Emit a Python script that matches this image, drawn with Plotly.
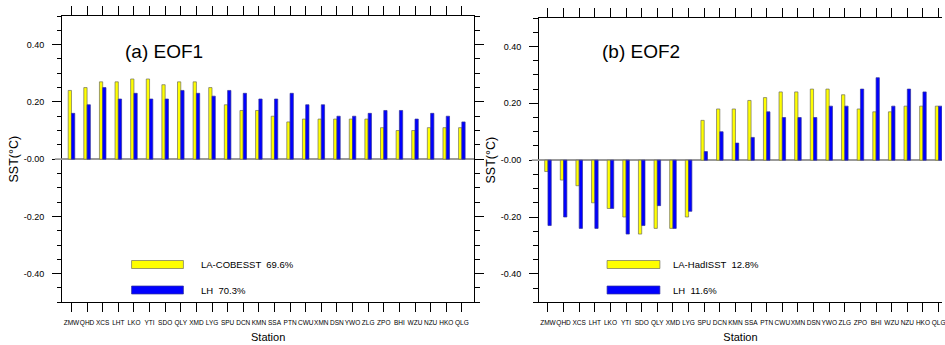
import plotly.graph_objects as go
from plotly.subplots import make_subplots

stations = ["ZMW", "QHD", "XCS", "LHT", "LKO", "YTI", "SDO", "QLY", "XMD", "LYG",
            "SPU", "DCN", "KMN", "SSA", "PTN", "CWU", "XMN", "DSN", "YWO", "ZLG",
            "ZPO", "BHI", "WZU", "NZU", "HKO", "QLG"]

eof1_la = [0.24, 0.25, 0.27, 0.27, 0.28, 0.28, 0.26, 0.27, 0.27, 0.25,
           0.19, 0.17, 0.17, 0.15, 0.13, 0.14, 0.14, 0.14, 0.14, 0.14,
           0.11, 0.10, 0.10, 0.11, 0.11, 0.11]
eof1_lh = [0.16, 0.19, 0.25, 0.21, 0.23, 0.21, 0.21, 0.24, 0.23, 0.22,
           0.24, 0.23, 0.21, 0.21, 0.23, 0.19, 0.19, 0.15, 0.15, 0.16,
           0.17, 0.17, 0.14, 0.16, 0.15, 0.13]

eof2_la = [-0.04, -0.07, -0.09, -0.15, -0.17, -0.20, -0.26, -0.24, -0.24, -0.20,
           0.14, 0.18, 0.18, 0.21, 0.22, 0.24, 0.24, 0.25, 0.25, 0.23,
           0.18, 0.17, 0.17, 0.19, 0.19, 0.19]
eof2_lh = [-0.23, -0.20, -0.24, -0.24, -0.17, -0.26, -0.23, -0.16, -0.24, -0.18,
           0.03, 0.10, 0.06, 0.08, 0.17, 0.15, 0.15, 0.15, 0.19, 0.19,
           0.25, 0.29, 0.19, 0.25, 0.24, 0.19]

y_tickvals = [-0.4, -0.2, 0.0, 0.2, 0.4]
y_ticktext = ["-0.40", "-0.20", "-0.00", "0.20", "0.40"]

panel_titles = ["(a) EOF1", "(b) EOF2"]
legend_labels = [["LA-COBESST  69.6%", "LH  70.3%"], ["LA-HadISST  12.8%", "LH  11.6%"]]

W, H = 945, 345
YELLOW = "#FFFF00"
BLUE = "#0000FF"
EDGE = "#6f6f5a"

fig = make_subplots(rows=1, cols=2)

for col, (la, lh) in enumerate([(eof1_la, eof1_lh), (eof2_la, eof2_lh)], start=1):
    fig.add_trace(go.Bar(x=stations, y=la, marker=dict(color=YELLOW, line=dict(color=EDGE, width=0.7)),
                         showlegend=False), row=1, col=col)
    fig.add_trace(go.Bar(x=stations, y=lh, marker=dict(color=BLUE, line=dict(color="#333399", width=0.7)),
                         showlegend=False), row=1, col=col)

base_font = "Liberation Sans, Arial, Helvetica, sans-serif"
narrow_font = "Liberation Sans Narrow, Arial Narrow, Liberation Sans, sans-serif"

def px_x(p):
    return p / W

def px_y(p):
    return 1 - p / H

x_domains = [[px_x(62.3), px_x(475.7)], [px_x(540.7), 1.0]]
y_domains = [[px_y(302.3), px_y(16)], [px_y(302.3), px_y(18)]]
x_ranges = [[-0.6, 25.79], [-0.575, 25.22]]
y_mirror = ["ticks", False]

for i in range(2):
    xa = "xaxis" if i == 0 else "xaxis2"
    ya = "yaxis" if i == 0 else "yaxis2"
    fig.layout[xa].update(
        domain=x_domains[i], range=x_ranges[i], type="category",
        showline=True, linecolor="black", linewidth=1, mirror="ticks",
        ticks="outside", ticklen=9, tickwidth=1, tickcolor="black",
        tickfont=dict(family=narrow_font, size=6.5, color="black"),
        ticklabelstandoff=5,
        showgrid=False, tickangle=0,
        title=dict(text="Station", font=dict(family=base_font, size=11, color="black"), standoff=7),
    )
    fig.layout[ya].update(
        domain=y_domains[i], range=[-0.5, 0.5],
        tickvals=y_tickvals, ticktext=y_ticktext,
        showline=True, linecolor="black", linewidth=1, mirror=y_mirror[i],
        ticks="outside", ticklen=9, tickwidth=1, tickcolor="black",
        minor=dict(dtick=0.05, tick0=0, ticks="outside", ticklen=4.5, tickwidth=1, tickcolor="black", showgrid=False),
        tickfont=dict(family=base_font, size=9, color="black"),
        ticklabelstandoff=6,
        showgrid=False,
        zeroline=True, zerolinecolor="#9a9a9a", zerolinewidth=1.6,
        title=dict(text="SST(°C)", font=dict(family=base_font, size=12.5, color="black"), standoff=2),
    )

annotations = []
shapes = []
title_x = [123, 602]
leg_rect_x = [(132, 184), (609, 662)]
leg_text_x = [200, 673]
leg_rows_y = [(260.5, 268.5), (286, 294)]
zero_stub_x = [(55, 62.3), (533.5, 540.7)]
for i in range(2):
    yref = "y" if i == 0 else "y2"
    shapes.append(dict(type="line", xref="paper", yref=yref,
                       x0=px_x(zero_stub_x[i][0]), x1=px_x(zero_stub_x[i][1]), y0=0, y1=0,
                       line=dict(color="#9a9a9a", width=1.6)))
    annotations.append(dict(text=panel_titles[i], x=px_x(title_x[i]), y=px_y(51), xref="paper", yref="paper",
                            xanchor="left", yanchor="middle", showarrow=False,
                            font=dict(family=base_font, size=19, color="black")))
    for j, color in enumerate([YELLOW, BLUE]):
        y0, y1 = leg_rows_y[j]
        shapes.append(dict(type="rect", xref="paper", yref="paper",
                           x0=px_x(leg_rect_x[i][0]), x1=px_x(leg_rect_x[i][1]),
                           y0=px_y(y1), y1=px_y(y0), fillcolor=color,
                           line=dict(color=EDGE if j == 0 else "#333399", width=0.7)))
        annotations.append(dict(text=legend_labels[i][j], x=px_x(leg_text_x[i]), y=px_y((y0 + y1) / 2),
                                xref="paper", yref="paper", xanchor="left", yanchor="middle", showarrow=False,
                                font=dict(family=base_font, size=9.5, color="black")))

fig.update_layout(
    width=W, height=H, margin=dict(l=0, r=0, t=0, b=0),
    paper_bgcolor="white", plot_bgcolor="white",
    barmode="group", bargap=0.58, bargroupgap=0.0,
    annotations=annotations, shapes=shapes,
    showlegend=False,
)

fig.write_html("out.html")
